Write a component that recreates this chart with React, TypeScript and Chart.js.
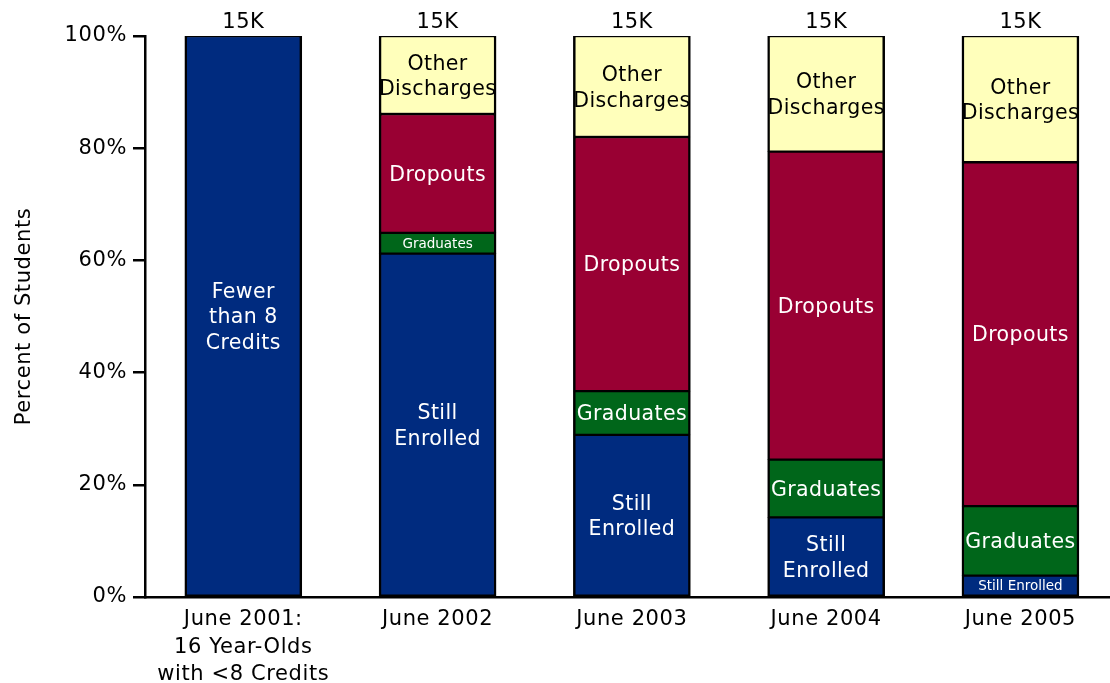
import React, { useEffect, useRef } from "react";
import { Chart, registerables } from "chart.js";

Chart.register(...registerables);

// ---- data ----
const categories: (string | string[])[] = [
  ["June 2001:", "16 Year-Olds", "with <8 Credits"],
  "June 2002",
  "June 2003",
  "June 2004",
  "June 2005",
];
const totals = ["15K", "15K", "15K", "15K", "15K"];

const fewerThan8 = [100, null, null, null, null];
const stillEnrolled = [null, 61.2, 28.9, 14.2, 3.8];
const graduates = [null, 3.7, 7.8, 10.3, 12.4];
const dropouts = [null, 21.2, 45.3, 54.9, 61.3];
const otherDischarges = [null, 13.9, 18.0, 20.6, 22.5];

const fewerLabels = ["Fewer\nthan 8\nCredits", "", "", "", ""];
const stillLabels = ["", "Still\nEnrolled", "Still\nEnrolled", "Still\nEnrolled", "Still Enrolled"];
const gradLabels = ["", "Graduates", "Graduates", "Graduates", "Graduates"];
const dropLabels = ["", "Dropouts", "Dropouts", "Dropouts", "Dropouts"];
const otherLabels = ["", "Other\nDischarges", "Other\nDischarges", "Other\nDischarges", "Other\nDischarges"];

const yTicks = [0, 20, 40, 60, 80, 100];

const FONT = "'DejaVu Sans', Verdana, sans-serif";
const NAVY = "#002B7F";
const CRIMSON = "#990033";
const GREEN = "#00661A";
const YELLOW = "#FFFFBB";

const toPoints = (arr: (number | null)[]) => arr.map((v, i) => ({ x: i, y: v }));

const labelPlugin = {
  id: "segLabels",
  beforeUpdate(chart: any) {
    chart.ctx.letterSpacing = "0.6px";
  },
  beforeDraw(chart: any) {
    chart.ctx.letterSpacing = "0.6px";
  },
  afterDatasetsDraw(chart: any) {
    const ctx = chart.ctx;
    ctx.save();
    ctx.textAlign = "center";
    ctx.textBaseline = "middle";
    chart.data.datasets.forEach((ds: any, di: number) => {
      const meta = chart.getDatasetMeta(di);
      meta.data.forEach((el: any, j: number) => {
        const pt = ds.data[j];
        if (!pt || pt.y == null) return;
        const text: string = ds.segLabels[j];
        if (!text) return;
        const { x, y, base } = el.getProps(["x", "y", "base"], true);
        const h = Math.abs(base - y);
        const small = h < 30;
        const size = small ? 13.5 : 20.5;
        ctx.letterSpacing = small ? "0px" : "0.4px";
        const lh = small ? 16 : 25.5;
        const lines = text.split("\n");
        ctx.font = `${size}px ${FONT}`;
        ctx.fillStyle = ds.labelColor;
        const cy = (y + base) / 2 + (small ? 1 : 2);
        lines.forEach((ln, k) => {
          ctx.fillText(ln, x, cy + (k - (lines.length - 1) / 2) * lh);
        });
      });
    });
    // totals above bars
    const xs = chart.scales.x;
    const ys = chart.scales.y;
    ctx.letterSpacing = "0.5px";
    ctx.font = `21px ${FONT}`;
    ctx.fillStyle = "#000";
    ctx.textBaseline = "alphabetic";
    totals.forEach((t, i) => {
      let sum = 0;
      chart.data.datasets.forEach((ds: any) => {
        const v = ds.data[i]?.y;
        if (v != null) sum += v;
      });
      const px = xs.getPixelForValue(i);
      const py = ys.getPixelForValue(Math.min(sum, 100));
      ctx.fillText(t, px, py - 8);
    });
    ctx.restore();
  },
};

export default function App() {
  const ref = useRef<HTMLCanvasElement>(null);
  useEffect(() => {
    document.body.style.margin = "0";
    if (!ref.current) return;
    Chart.defaults.font.family = FONT;
    Chart.defaults.color = "#000";
    const mk = (label: string, data: (number | null)[], color: string, segLabels: string[], labelColor: string) => ({
      label,
      data: toPoints(data),
      backgroundColor: color,
      borderColor: "#000",
      borderWidth: { top: 1.5, bottom: 1.5, left: 2.5, right: 2.5 },
      borderSkipped: false,
      barThickness: 117,
      segLabels,
      labelColor,
    });
    const chart = new Chart(ref.current, {
      type: "bar",
      data: {
        datasets: [
          mk("Fewer than 8 Credits", fewerThan8, NAVY, fewerLabels, "#fff"),
          mk("Still Enrolled", stillEnrolled, NAVY, stillLabels, "#fff"),
          mk("Graduates", graduates, GREEN, gradLabels, "#fff"),
          mk("Dropouts", dropouts, CRIMSON, dropLabels, "#fff"),
          mk("Other Discharges", otherDischarges, YELLOW, otherLabels, "#000"),
        ] as any,
      },
      options: {
        animation: false,
        responsive: false,
        maintainAspectRatio: false,
        layout: { padding: { top: 36, right: 0, bottom: 0, left: 0 } },
        plugins: { legend: { display: false }, tooltip: { enabled: false } },
        scales: {
          x: {
            type: "linear",
            stacked: true,
            offset: false,
            min: -0.506,
            max: 4.461,
            bounds: "data",
            afterBuildTicks: (scale: any) => {
              scale.ticks = categories.map((_, i) => ({ value: i }));
            },
            afterFit: (scale: any) => {
              scale.height = 86;
            },
            grid: { display: false, drawTicks: false, tickLength: 0 },
            border: { display: true, color: "#000", width: 2.5 },
            ticks: {
              autoSkip: false,
              maxRotation: 0,
              minRotation: 0,
              padding: 9,
              color: "#000",
              font: { size: 21, lineHeight: 1.31 },
              callback: (v: any) => categories[v as number] ?? "",
            },
          },
          y: {
            stacked: true,
            min: 0,
            max: 100,
            afterBuildTicks: (scale: any) => {
              scale.ticks = yTicks.map((v) => ({ value: v }));
            },
            afterFit: (scale: any) => {
              scale.width = 145;
            },
            grid: { drawOnChartArea: false, drawTicks: true, tickLength: 12, color: "#000", lineWidth: 2.5 },
            border: { display: true, color: "#000", width: 2.5 },
            ticks: {
              padding: 6,
              color: "#000",
              font: { size: 21 },
              callback: (v: any) => `${v}%`,
            },
            title: {
              display: true,
              text: "Percent of Students",
              color: "#000",
              font: { size: 21 },
              padding: { top: 12, bottom: 0 },
            },
          },
        },
      } as any,
      plugins: [labelPlugin],
    });
    return () => chart.destroy();
  }, []);
  return (
    <div style={{ width: 1110, height: 683, position: "relative", overflow: "hidden" }}>
      <canvas ref={ref} width={1110} height={683} style={{ display: "block" }} />
    </div>
  );
}
